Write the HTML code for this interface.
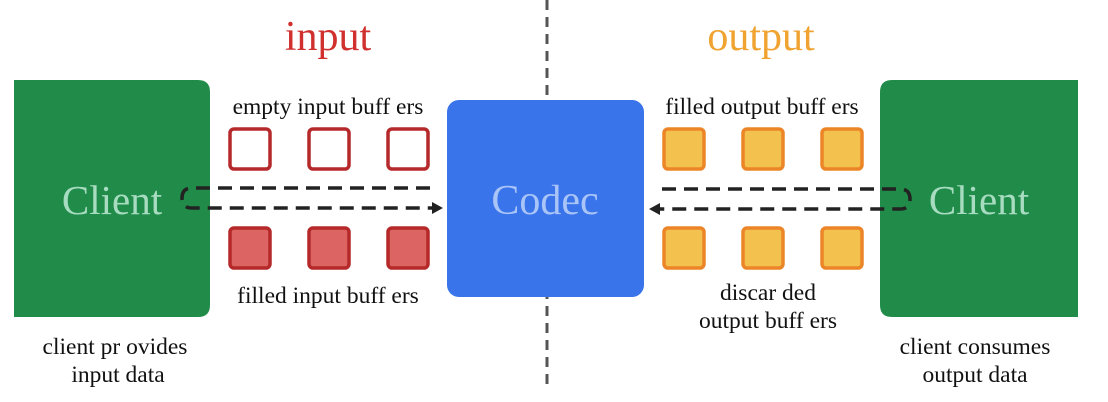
<!DOCTYPE html>
<html><head><style>
html,body{margin:0;padding:0;background:#fff;}
svg{display:block;}
text{font-family:"Liberation Serif",serif;}
</style></head><body>
<svg width="1108" height="402" viewBox="0 0 1108 402" xmlns="http://www.w3.org/2000/svg">
<line x1="547" y1="0" x2="547" y2="390" stroke="#555" stroke-width="3" stroke-dasharray="10,7"/>
<path d="M14 80 H198 Q210 80 210 92 V305 Q210 317 198 317 H14 Z" fill="#218c4a"/>
<path d="M892 80 H1078 V317 H892 Q880 317 880 305 V92 Q880 80 892 80 Z" fill="#218c4a"/>
<rect x="447" y="100" width="197" height="197" rx="12" fill="#3a74eb"/>
<g fill="none" stroke="#b5292a" stroke-width="3.5">
<rect x="230" y="129" width="40" height="40" rx="4"/>
<rect x="309" y="129" width="40" height="40" rx="4"/>
<rect x="388" y="129" width="40" height="40" rx="4"/>
<g fill="#dc6563">
<rect x="230" y="228" width="40" height="40" rx="4"/>
<rect x="309" y="228" width="40" height="40" rx="4"/>
<rect x="388" y="228" width="40" height="40" rx="4"/>
</g></g>
<g fill="#f2c14e" stroke="#ec8527" stroke-width="3.5">
<rect x="664" y="129" width="40" height="40" rx="4"/>
<rect x="743" y="129" width="40" height="40" rx="4"/>
<rect x="822" y="129" width="40" height="40" rx="4"/>
<rect x="664" y="228" width="40" height="40" rx="4"/>
<rect x="743" y="228" width="40" height="40" rx="4"/>
<rect x="822" y="228" width="40" height="40" rx="4"/>
</g>
<g fill="none" stroke="#222" stroke-width="3.5" stroke-dasharray="14,8">
<path d="M430 188 H192 Q182 188 182 198 Q182 208 192 208 H434"/>
<path d="M662 189 H900 Q910 189 910 199 Q910 209 900 209 H658"/>
</g>
<path d="M443 208 L432 202 L432 214 Z" fill="#222"/>
<path d="M649 209 L660 203 L660 215 Z" fill="#222"/>
<text x="328" y="50" font-size="42" fill="#d0302e" text-anchor="middle">input</text>
<text x="761" y="50" font-size="42" fill="#f0a330" text-anchor="middle">output</text>
<g font-size="23.5" fill="#111" text-anchor="middle">
<text x="328" y="114">empty input buff ers</text>
<text x="328" y="303">filled input buff ers</text>
<text x="762" y="114">filled output buff ers</text>
<text x="768" y="300">discar ded</text>
<text x="768" y="328">output buff ers</text>
<text x="115" y="354">client pr ovides</text>
<text x="118" y="382">input data</text>
<text x="975" y="354">client consumes</text>
<text x="975" y="382">output data</text>
</g>
<text x="112" y="214" font-size="41" fill="#a8dcc0" text-anchor="middle">Client</text>
<text x="979" y="214" font-size="41" fill="#a8dcc0" text-anchor="middle">Client</text>
<text x="545" y="214" font-size="42" fill="#a9c4f6" text-anchor="middle">Codec</text>
</svg>
</body></html>
